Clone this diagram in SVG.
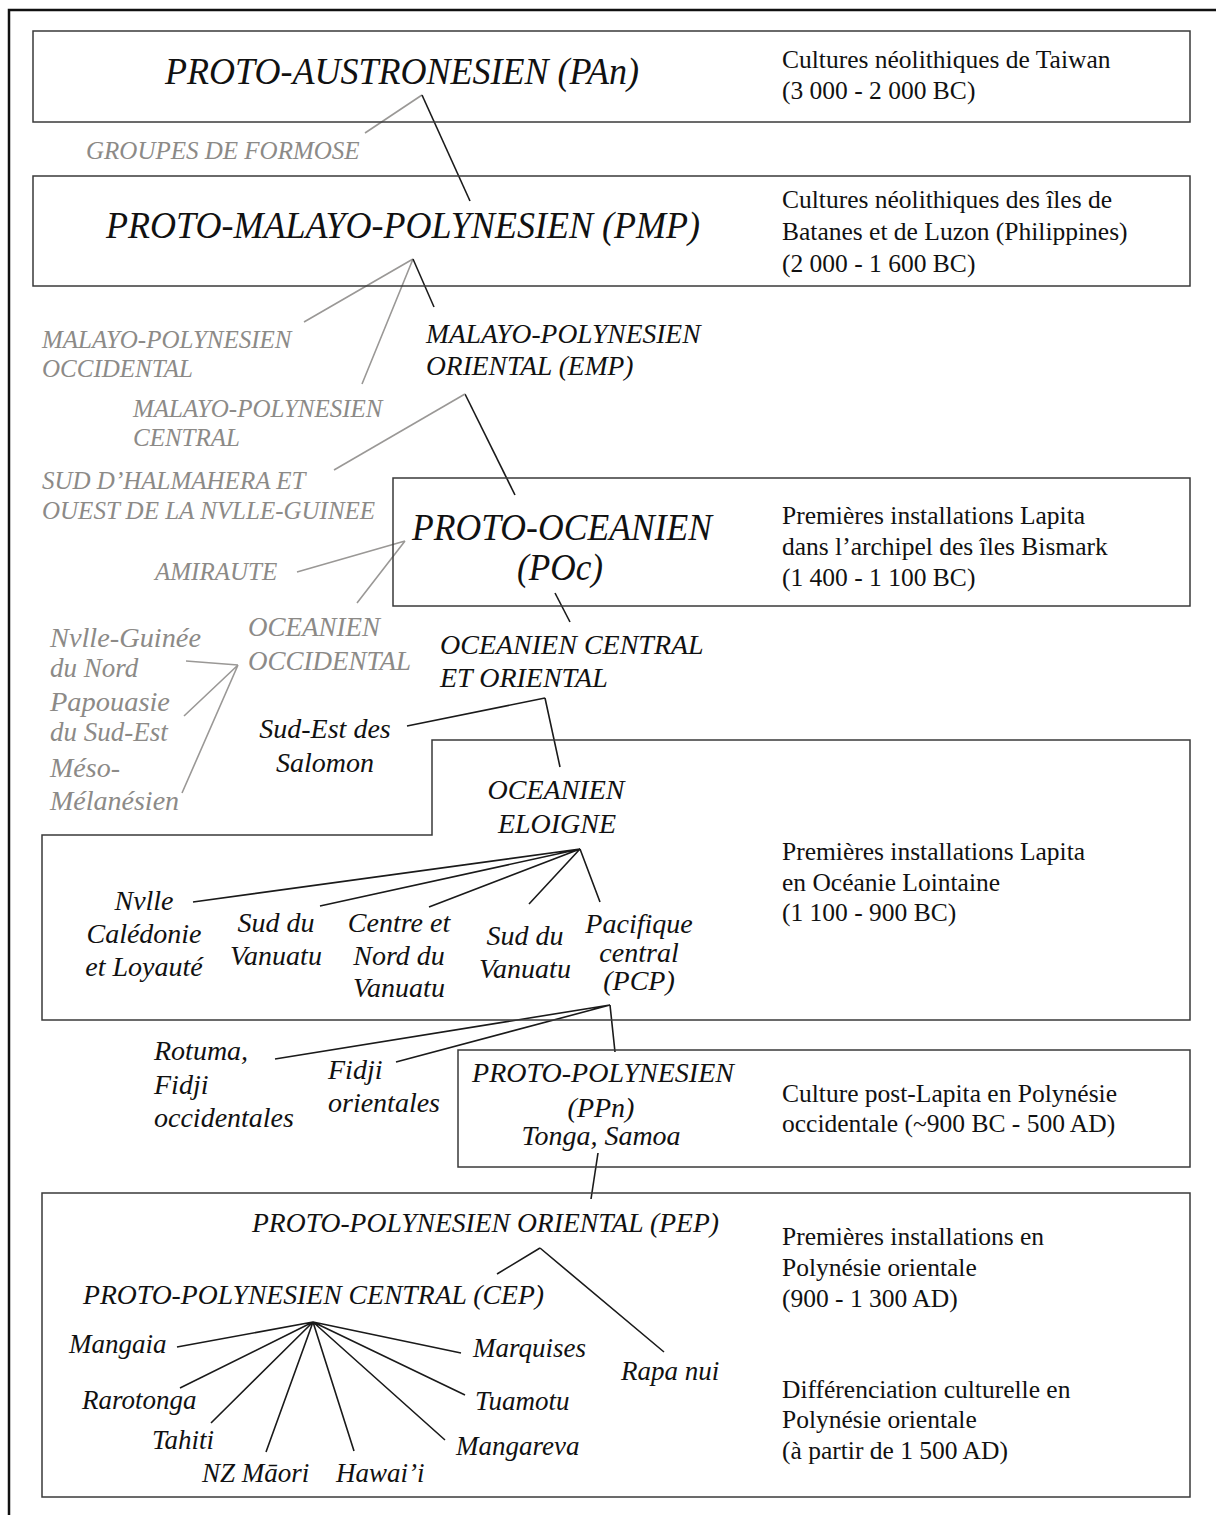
<svg xmlns="http://www.w3.org/2000/svg" width="1216" height="1515" viewBox="0 0 1216 1515">
<style>
.frame{fill:none;stroke:#111;stroke-width:2.5}
.box{fill:none;stroke:#3a3a3a;stroke-width:1.5}
.t{font-family:"Liberation Serif","Times New Roman",serif;fill:#111}
.i{font-style:italic}
.n{font-size:25.5px}
.h{font-size:38px}
.l{font-size:28px}
.s{font-size:27px}
.g{fill:#8c8a87;font-style:italic;font-size:25px}
.gl{fill:#8c8a87;font-style:italic;font-size:28px}
.c{text-anchor:middle}
.k{stroke:#1a1a1a;stroke-width:1.6;fill:none}
.y{stroke:#9a9896;stroke-width:1.6;fill:none}
</style>
<rect class="frame" x="9" y="10" width="1230" height="1530"/>

<g id="connectors">
<path class="y" d="M422,95 L365,133"/>
<path class="k" d="M422,95 L470,201"/>
<path class="y" d="M413,259 L304,322 M413,259 L362,384"/>
<path class="k" d="M413,259 L434,307"/>
<path class="k" d="M465,394 L515,495"/>
<path class="y" d="M465,394 L334,470"/>
<path class="y" d="M405,541 L297,572 M405,541 L357,603"/>
<path class="k" d="M555,593 L570,622"/>
<path class="k" d="M545,698 L407,726 M545,698 L560,767"/>
<path class="y" d="M238,665 L186,661 M238,665 L184,716 M238,665 L182,793"/>
<path class="k" d="M580,849 L193,902 M580,849 L320,906 M580,849 L429,907 M580,849 L529,904 M580,849 L600,902"/>
<path class="k" d="M610,1005 L275,1059 M610,1005 L396,1062 M610,1005 L615,1052"/>
<path class="k" d="M598,1153 L591,1199"/>
<path class="k" d="M540,1248 L497,1274 M540,1248 L664,1352"/>
<path class="k" d="M313,1322 L177,1347 M313,1322 L180,1388 M313,1322 L211,1423 M313,1322 L266,1452 M313,1322 L354,1451 M313,1322 L445,1440 M313,1322 L465,1395 M313,1322 L461,1353"/>
</g>

<g id="pan">
<rect class="box" x="33" y="31" width="1157" height="91"/>
<text class="t i h" x="165" y="84" textLength="474" lengthAdjust="spacingAndGlyphs">PROTO-AUSTRONESIEN (PAn)</text>
<text class="t n" x="782" y="68">Cultures néolithiques de Taiwan</text>
<text class="t n" x="782" y="99">(3 000 - 2 000 BC)</text>
</g>

<g id="formose">
<text class="t g" x="86" y="158.5">GROUPES DE FORMOSE</text>
</g>

<g id="pmp">
<rect class="box" x="33" y="176" width="1157" height="110"/>
<text class="t i h" x="106" y="238" textLength="594" lengthAdjust="spacingAndGlyphs">PROTO-MALAYO-POLYNESIEN (PMP)</text>
<text class="t n" x="782" y="208">Cultures néolithiques des îles de</text>
<text class="t n" x="782" y="240">Batanes et de Luzon (Philippines)</text>
<text class="t n" x="782" y="272">(2 000 - 1 600 BC)</text>
</g>

<g id="mp-occ">
<text class="t g" x="42" y="348">MALAYO-POLYNESIEN</text>
<text class="t g" x="42" y="377">OCCIDENTAL</text>
</g>

<g id="emp">
<text class="t i" style="font-size:27.5px" x="426" y="343">MALAYO-POLYNESIEN</text>
<text class="t i" style="font-size:27.5px" x="426" y="375">ORIENTAL (EMP)</text>
</g>

<g id="mp-central">
<text class="t g" x="133" y="417">MALAYO-POLYNESIEN</text>
<text class="t g" x="133" y="446">CENTRAL</text>
</g>

<g id="halmahera">
<text class="t g" x="42" y="489">SUD D’HALMAHERA ET</text>
<text class="t g" x="42" y="519">OUEST DE LA NVLLE-GUINEE</text>
</g>

<g id="poc">
<rect class="box" x="393" y="478" width="797" height="128"/>
<text class="t i h" x="412" y="540" textLength="300" lengthAdjust="spacingAndGlyphs">PROTO-OCEANIEN</text>
<text class="t i h" x="517" y="580" textLength="86" lengthAdjust="spacingAndGlyphs">(POc)</text>
<text class="t n" x="782" y="524">Premières installations Lapita</text>
<text class="t n" x="782" y="555">dans l’archipel des îles Bismark</text>
<text class="t n" x="782" y="586">(1 400 - 1 100 BC)</text>
</g>

<g id="amiraute">
<text class="t g" x="155" y="580">AMIRAUTE</text>
</g>

<g id="oc-occ">
<text class="t gl" style="font-size:27px" x="248" y="636">OCEANIEN</text>
<text class="t gl" style="font-size:27px" x="248" y="670">OCCIDENTAL</text>
</g>

<g id="oc-central">
<text class="t i l" x="440" y="654">OCEANIEN CENTRAL</text>
<text class="t i l" x="440" y="687">ET ORIENTAL</text>
</g>

<g id="nvlle-guinee">
<text class="t gl" style="font-size:27px" x="50" y="647" textLength="151" lengthAdjust="spacingAndGlyphs">Nvlle-Guinée</text>
<text class="t gl" style="font-size:27px" x="50" y="677">du Nord</text>
</g>
<g id="papouasie">
<text class="t gl" style="font-size:27px" x="50" y="711" textLength="120" lengthAdjust="spacingAndGlyphs">Papouasie</text>
<text class="t gl" style="font-size:27px" x="50" y="741">du Sud-Est</text>
</g>
<g id="meso">
<text class="t gl" x="50" y="777">Méso-</text>
<text class="t gl" x="50" y="810">Mélanésien</text>
</g>

<g id="salomon">
<text class="t i l c" x="325" y="738">Sud-Est des</text>
<text class="t i l c" x="325" y="772">Salomon</text>
</g>

<g id="eloigne">
<path class="box" d="M432,740 L1190,740 L1190,1020 L42,1020 L42,835 L432,835 Z"/>
<text class="t i l c" x="556" y="799">OCEANIEN</text>
<text class="t i l c" x="557" y="833">ELOIGNE</text>
<text class="t n" x="782" y="860">Premières installations Lapita</text>
<text class="t n" x="782" y="891">en Océanie Lointaine</text>
<text class="t n" x="782" y="921">(1 100 - 900 BC)</text>
</g>

<g id="caledonie">
<text class="t i l c" x="144" y="910">Nvlle</text>
<text class="t i l c" x="144" y="943">Calédonie</text>
<text class="t i l c" x="144" y="976">et Loyauté</text>
</g>
<g id="sud-vanuatu-1">
<text class="t i l c" x="276" y="932">Sud du</text>
<text class="t i l c" x="276" y="965">Vanuatu</text>
</g>
<g id="centre-nord-vanuatu">
<text class="t i l c" x="399" y="932">Centre et</text>
<text class="t i l c" x="399" y="965">Nord du</text>
<text class="t i l c" x="399" y="997">Vanuatu</text>
</g>
<g id="sud-vanuatu-2">
<text class="t i l c" x="525" y="945">Sud du</text>
<text class="t i l c" x="525" y="978">Vanuatu</text>
</g>
<g id="pcp">
<text class="t i l c" x="639" y="933">Pacifique</text>
<text class="t i l c" x="639" y="962">central</text>
<text class="t i l c" x="639" y="990">(PCP)</text>
</g>

<g id="rotuma">
<text class="t i l" x="154" y="1060">Rotuma,</text>
<text class="t i l" x="154" y="1094">Fidji</text>
<text class="t i l" x="154" y="1127">occidentales</text>
</g>
<g id="fidji-or">
<text class="t i l" x="328" y="1079">Fidji</text>
<text class="t i l" x="328" y="1112">orientales</text>
</g>

<g id="ppn">
<rect class="box" x="458" y="1050" width="732" height="117"/>
<text class="t i l c" x="603" y="1082">PROTO-POLYNESIEN</text>
<text class="t i l c" x="601" y="1117">(PPn)</text>
<text class="t i l c" x="601" y="1145">Tonga, Samoa</text>
<text class="t n" x="782" y="1102">Culture post-Lapita en Polynésie</text>
<text class="t n" x="782" y="1132">occidentale (~900 BC - 500 AD)</text>
</g>

<g id="pep">
<rect class="box" x="42" y="1193" width="1148" height="304"/>
<text class="t i l" x="252" y="1232" textLength="467" lengthAdjust="spacingAndGlyphs">PROTO-POLYNESIEN ORIENTAL (PEP)</text>
<text class="t n" x="782" y="1245">Premières installations en</text>
<text class="t n" x="782" y="1276">Polynésie orientale</text>
<text class="t n" x="782" y="1307">(900 - 1 300 AD)</text>
<text class="t n" x="782" y="1398">Différenciation culturelle en</text>
<text class="t n" x="782" y="1428">Polynésie orientale</text>
<text class="t n" x="782" y="1459">(à partir de 1 500 AD)</text>
</g>

<g id="cep">
<text class="t i l" x="83" y="1304" textLength="461" lengthAdjust="spacingAndGlyphs">PROTO-POLYNESIEN CENTRAL (CEP)</text>
</g>

<g id="leaves">
<text class="t i s" x="69" y="1353">Mangaia</text>
<text class="t i s" x="82" y="1409">Rarotonga</text>
<text class="t i s" x="152" y="1449">Tahiti</text>
<text class="t i s" x="202" y="1482">NZ Māori</text>
<text class="t i s" x="336" y="1482">Hawai’i</text>
<text class="t i s" x="456" y="1455">Mangareva</text>
<text class="t i s" x="475" y="1410">Tuamotu</text>
<text class="t i s" x="473" y="1357">Marquises</text>
</g>
<g id="rapanui">
<text class="t i s" x="621" y="1380">Rapa nui</text>
</g>
</svg>
